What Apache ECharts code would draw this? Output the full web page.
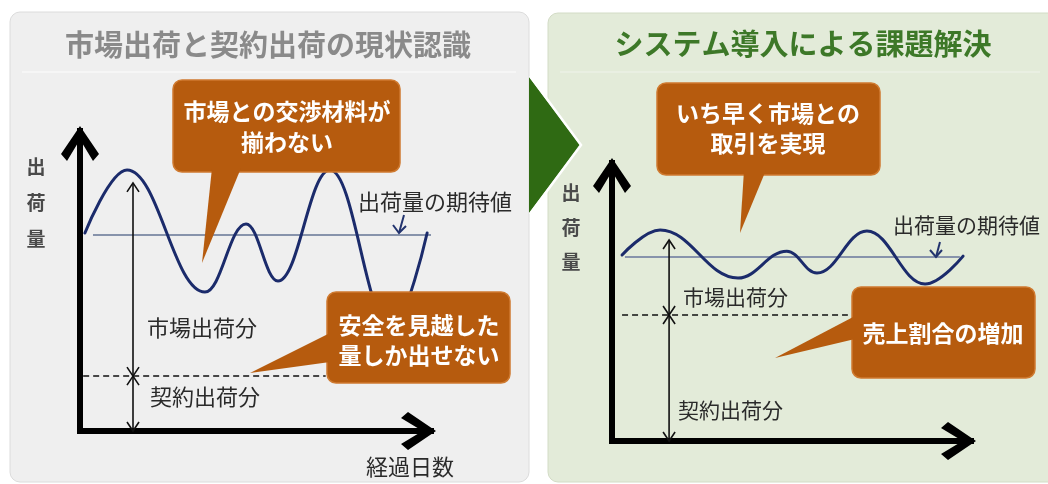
<!DOCTYPE html>
<html><head><meta charset="utf-8">
<script src="https://cdn.jsdelivr.net/npm/echarts@6/dist/echarts.min.js"></script>
<style>html,body{margin:0;padding:0;background:#fff}#c{width:1048px;height:484px}</style>
</head><body><div id="c"></div>
<script>
// ---- data (x: elapsed days 0-100, y: shipment volume 0-100) ----
// turning points of each shipment curve (start, peaks, troughs, end)
const leftWave = [[1.4,66.0],[13.4,87.0],[35.6,46.3],[47.3,69.0],[56.4,50.0],[71.2,87.0],[88.6,34.3],[98.9,66.0]];
const rightWave = [[2.8,66.9],[13.4,75.9],[35.1,58.6],[48.7,68.3],[57.1,60.4],[71.0,75.5],[87.2,56.5],[97.8,66.5]];
const leftExpected = [[3.7,65.3],[100,65.3]];
const rightExpected = [[3.6,66.2],[96.9,66.2]];
const leftContract = [[0.9,18.3],[70,18.3]];
const rightContract = [[2.8,45.3],[65.7,45.3]];
const leftSpans = [[15.1,18.3,82.7],[15.1,0,18.3]];
const rightSpans = [[15.9,45.3,72.3],[15.9,0,45.3]];
const titles = ['市場出荷と契約出荷の現状認識','システム導入による課題解決'];
const yName = ['出','荷','量'];
const xName = '経過日数';
const expectedLabel = '出荷量の期待値';
const marketLabel = '市場出荷分';
const contractLabel = '契約出荷分';
const callouts = ['市場との交渉材料が\n揃わない','安全を見越した\n量しか出せない','いち早く市場との\n取引を実現','売上割合の増加'];

const FONT = '"Noto Sans CJK JP", "Noto Sans", sans-serif';
const BROWN = '#b65b0e';
const CHEV = 'path://M19,0 L38,28 L32,35 L19,13.5 L6,35 L0,28 Z';

function axis(grid){
  return {gridIndex:grid, type:'value', min:0, max:100,
    axisLine:{show:true, onZero:false, lineStyle:{color:'#000', width:6, cap:'square'},
      symbol:['none', CHEV], symbolSize:[38,35], symbolOffset:[0,-12.5]},
    axisTick:{show:false}, axisLabel:{show:false}, splitLine:{show:false}};
}
function spanRender(params, api){
  const x = api.value(0);
  const a = api.coord([x, api.value(1)]);
  const b = api.coord([x, api.value(2)]);
  const s = {stroke:'#111', lineWidth:1.6, fill:null};
  return {type:'group', children:[
    {type:'line', shape:{x1:a[0],y1:a[1],x2:b[0],y2:b[1]}, style:s},
    {type:'polyline', shape:{points:[[a[0]-6,a[1]-9],[a[0],a[1]],[a[0]+6,a[1]-9]]}, style:s},
    {type:'polyline', shape:{points:[[b[0]-6,b[1]+9],[b[0],b[1]],[b[0]+6,b[1]+9]]}, style:s}
  ]};
}
function lineSeries(idx, data, style, smooth, mono){
  const s = {type:'line', xAxisIndex:idx, yAxisIndex:idx, data:data, smooth:smooth||false,
    showSymbol:false, symbol:'none', silent:true, lineStyle:style, z:3};
  if (mono) s.smoothMonotone = mono;
  return s;
}
function txt(x,y,text,font,fill,align){
  return {type:'text', x:x, y:y, z:20, silent:true,
    style:{text:text, font:font, fill:fill, align:align||'left', textAlign:align||'left',
      verticalAlign:'middle', textVerticalAlign:'middle'}};
}
function bubble(rect, tail, text, cx, cy, lh){
  return [
    {type:'rect', z:15, silent:true, shape:{x:rect[0],y:rect[1],width:rect[2],height:rect[3],r:9},
      style:{fill:BROWN, stroke:'#cf7a30', lineWidth:1.5}},
    {type:'polygon', z:16, silent:true, shape:{points:tail}, style:{fill:BROWN}},
    {type:'text', z:17, silent:true, x:cx, y:cy,
      style:{text:text, font:'bold 23px '+FONT, fill:'#fff', align:'center', textAlign:'center',
        verticalAlign:'middle', textVerticalAlign:'middle', lineHeight:lh}}
  ];
}

const graphic = [
  {type:'rect', z:-10, silent:true, shape:{x:548,y:13,width:515,height:469,r:10}, style:{fill:'#e3ebd9', stroke:'#d3dcc6', lineWidth:1}},
  {type:'rect', z:-10, silent:true, shape:{x:10,y:12,width:519,height:470,r:10}, style:{fill:'#efefef', stroke:'#dcdcdc', lineWidth:1}},
  {type:'line', z:-9, silent:true, shape:{x1:22,y1:72,x2:516,y2:72}, style:{stroke:'#f8f8f8', lineWidth:1.5}},
  {type:'line', z:-9, silent:true, shape:{x1:560,y1:72,x2:1040,y2:72}, style:{stroke:'#ebf1e4', lineWidth:1.5}},
  {type:'polygon', z:-8, silent:true, shape:{points:[[529,77],[580,145],[529,213]]}, style:{fill:'#2f6a13'}},
  {type:'polyline', z:-8, silent:true, shape:{points:[[530,76],[581,145],[530,214]]}, style:{stroke:'#ffffff', lineWidth:2.5, fill:null}},
  txt(268,45,titles[0],'bold 29px '+FONT,'#8a8a8a','center'),
  txt(803,44,titles[1],'bold 29px '+FONT,'#3d7828','center'),
  txt(36,167,yName[0],'bold 19px '+FONT,'#4a4a4a','center'),
  txt(36,203,yName[1],'bold 19px '+FONT,'#4a4a4a','center'),
  txt(36,239,yName[2],'bold 19px '+FONT,'#4a4a4a','center'),
  txt(571,193,yName[0],'bold 19px '+FONT,'#4a4a4a','center'),
  txt(571,228,yName[1],'bold 19px '+FONT,'#4a4a4a','center'),
  txt(571,262,yName[2],'bold 19px '+FONT,'#4a4a4a','center'),
  txt(410,467,xName,'22px '+FONT,'#2a2a2a','center'),
  txt(358,202,expectedLabel,'22px '+FONT,'#2a2a2a','left'),
  txt(893,225,expectedLabel,'21px '+FONT,'#2a2a2a','left'),
  txt(147,328,marketLabel,'22px '+FONT,'#2a2a2a','left'),
  txt(150,397,contractLabel,'22px '+FONT,'#2a2a2a','left'),
  txt(683,297,marketLabel,'21px '+FONT,'#2a2a2a','left'),
  txt(678,410,contractLabel,'21px '+FONT,'#2a2a2a','left'),
  {type:'polyline', z:12, silent:true, shape:{points:[[404,215],[399,233]]}, style:{stroke:'#22336e', lineWidth:2}},
  {type:'polyline', z:12, silent:true, shape:{points:[[393,225],[399,233],[406,226]]}, style:{stroke:'#22336e', lineWidth:2, fill:null}},
  {type:'polyline', z:12, silent:true, shape:{points:[[940,242],[936,257]]}, style:{stroke:'#22336e', lineWidth:2}},
  {type:'polyline', z:12, silent:true, shape:{points:[[930,250],[936,257],[942,250]]}, style:{stroke:'#22336e', lineWidth:2, fill:null}}
].concat(
  bubble([173,80,227,92], [[212,168],[241,168],[202,263]], callouts[0], 287, 127, 31),
  bubble([327,292,183,91], [[330,333],[330,362],[250,373]], callouts[1], 419, 340, 30),
  bubble([657,83,223,92], [[744,170],[766,170],[740,233]], callouts[2], 768, 128, 30),
  bubble([852,287,183,91], [[855,316],[855,339],[775,358]], callouts[3], 943, 333, 30)
);

const waveStyle = {color:'#1b2b6b', width:3, cap:'round'};
const expStyle = {color:'#8793ab', width:2};
const dashStyle = {color:'#111', width:1.5, type:[6,4]};

const option = {
  animation:false,
  backgroundColor:'#ffffff',
  grid:[{left:80, top:131, width:351, height:300, containLabel:false},
        {left:612, top:163, width:359, height:278, containLabel:false}],
  xAxis:[axis(0), axis(1)],
  yAxis:[axis(0), axis(1)],
  graphic: graphic,
  series:[
    lineSeries(0, leftExpected, expStyle),
    lineSeries(1, rightExpected, expStyle),
    lineSeries(0, leftWave, waveStyle, 0.4, 'x'),
    lineSeries(1, rightWave, waveStyle, 0.4, 'x'),
    lineSeries(0, leftContract, dashStyle),
    lineSeries(1, rightContract, dashStyle),
    {type:'custom', xAxisIndex:0, yAxisIndex:0, silent:true, data:leftSpans, encode:{x:0, y:[1,2]}, renderItem:spanRender, z:4},
    {type:'custom', xAxisIndex:1, yAxisIndex:1, silent:true, data:rightSpans, encode:{x:0, y:[1,2]}, renderItem:spanRender, z:4}
  ]
};
const chart = echarts.init(document.getElementById('c'), null, {renderer:'canvas'});
chart.setOption(option);
</script></body></html>
